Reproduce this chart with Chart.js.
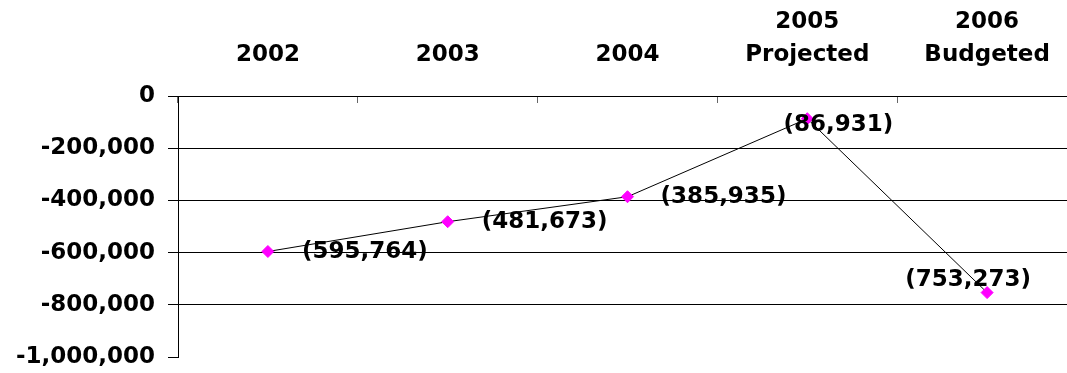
<!DOCTYPE html>
<html>
<head>
<meta charset="utf-8">
<script src="https://cdn.jsdelivr.net/npm/chart.js@4/dist/chart.umd.min.js"></script>
<style>
  html, body { margin: 0; padding: 0; background: #fff; overflow: hidden; }
  #wrap { width: 1077px; height: 373px; }
</style>
</head>
<body>
<div id="wrap"><canvas id="c" width="1077" height="373"></canvas></div>
<script>
// Net result by year (negative = deficit)
const categories = [['2002'], ['2003'], ['2004'], ['2005', 'Projected'], ['2006', 'Budgeted']];
const netValues = [-595764, -481673, -385935, -86931, -753273];
const yTicks = [0, -200000, -400000, -600000, -800000, -1000000];

// Where each value label sits relative to its point (pixels)
const labelOffsets = [[97, 1], [97, 0], [96, 0], [31, 6], [-19, -13]];

const FONT = 'DejaVu Sans';
const fmtLabel = v => v < 0 ? '(' + Math.abs(v).toLocaleString('en-US') + ')' : v.toLocaleString('en-US');

const valueLabels = {
  id: 'valueLabels',
  afterDatasetsDraw(chart) {
    const ctx = chart.ctx;
    const meta = chart.getDatasetMeta(0);
    ctx.save();
    ctx.font = 'bold 23px "' + FONT + '"';
    ctx.fillStyle = '#000';
    ctx.textAlign = 'center';
    ctx.textBaseline = 'middle';
    meta.data.forEach((pt, i) => {
      const [dx, dy] = labelOffsets[i];
      ctx.fillText(fmtLabel(netValues[i]), pt.x + dx, pt.y + dy);
    });
    ctx.restore();
  }
};

new Chart(document.getElementById('c'), {
  type: 'line',
  data: {
    labels: categories,
    datasets: [{
      data: netValues,
      borderColor: '#000',
      borderWidth: 1,
      tension: 0,
      pointStyle: 'rectRot',
      pointRadius: 6,
      pointBackgroundColor: '#ff00ff',
      pointBorderColor: '#ff00ff',
      pointBorderWidth: 1
    }]
  },
  options: {
    responsive: false,
    animation: false,
    devicePixelRatio: 1,
    layout: { autoPadding: false, padding: { left: 0, right: 0, top: 0, bottom: 16 } },
    plugins: { legend: { display: false }, tooltip: { enabled: false } },
    scales: {
      x: {
        position: 'top',
        offset: true,
        grid: { offset: true, drawOnChartArea: false, tickLength: -7, tickColor: '#666' },
        border: { display: true, color: '#000', width: 1 },
        ticks: {
          color: '#000',
          padding: 31.5,
          maxRotation: 0,
          autoSkip: false,
          font: { family: FONT, size: 23, weight: 'bold', lineHeight: 1.43 }
        },
        afterFit(scale) {
          scale.height = 96;
          scale.paddingLeft = 0;
          scale.paddingRight = 0;
        }
      },
      y: {
        min: -1000000,
        max: 0,
        afterBuildTicks(scale) { scale.ticks = yTicks.map(v => ({ value: v })); },
        grid: {
          color: ctx => (ctx.tick && ctx.tick.value === -1000000) ? 'rgba(0,0,0,0)' : '#000',
          tickColor: '#000',
          tickLength: 10,
          lineWidth: 1
        },
        border: { display: true, color: '#000', width: 1 },
        ticks: {
          color: '#000',
          padding: 13,
          font: { family: FONT, size: 23, weight: 'bold' },
          callback: v => Number(v).toLocaleString('en-US')
        },
        afterFit(scale) {
          scale.width = 178;
          scale.paddingTop = 0;
          scale.paddingBottom = 0;
        }
      }
    }
  },
  plugins: [valueLabels]
});
</script>
</body>
</html>
